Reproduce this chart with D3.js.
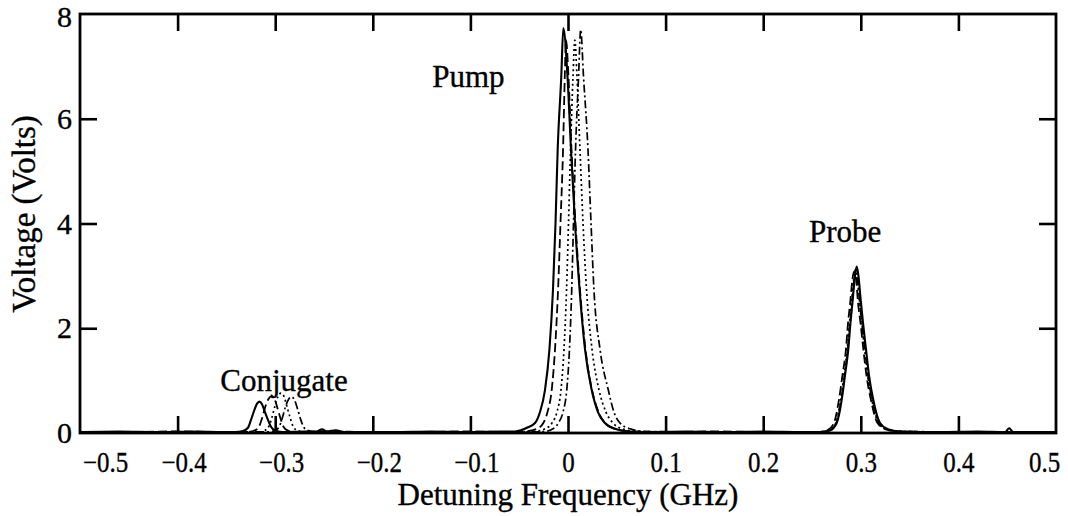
<!DOCTYPE html>
<html>
<head>
<meta charset="utf-8">
<script src="https://cdn.jsdelivr.net/npm/d3@7"></script>
<style>
  html, body { margin: 0; padding: 0; background: #fff; }
  svg { display: block; }
  text { font-family: "Liberation Serif", "Times New Roman", serif; fill: #000; stroke: #000; stroke-width: 0.35px; }
</style>
</head>
<body>
<svg id="chart" width="1068" height="516"></svg>
<script>
// ---------------- data ----------------
const xTicks = [-0.5, -0.4, -0.3, -0.2, -0.1, 0, 0.1, 0.2, 0.3, 0.4, 0.5];
const yTicks = [0, 2, 4, 6, 8];
const xTitle = "Detuning Frequency (GHz)";
const yTitle = "Voltage (Volts)";
const peakLabels = ["Conjugate", "Pump", "Probe"];
const peakLabelAt = [[-0.291, 0.8], [-0.102, 6.6], [0.284, 3.65]]; // [GHz, Volts]

// solid trace: [GHz, Volts]
const solidTrace = [
  [-0.5,0.02],[-0.46,0.03],[-0.42,0.02],[-0.38,0.03],[-0.355,0.02],
  [-0.3412,0.02],[-0.3330,0.04],[-0.3279,0.10],[-0.3248,0.25],[-0.3217,0.42],[-0.3186,0.56],
  [-0.3163,0.60],[-0.3135,0.55],[-0.3105,0.40],[-0.3074,0.25],[-0.3043,0.12],[-0.3002,0.05],[-0.2930,0.02],
  [-0.27,0.03],[-0.258,0.03],[-0.252,0.07],[-0.247,0.03],[-0.238,0.05],[-0.229,0.02],
  [-0.18,0.02],[-0.14,0.03],[-0.10,0.02],[-0.07,0.03],
  [-0.0543,0.03],[-0.0410,0.11],[-0.0338,0.19],[-0.0287,0.40],[-0.0236,0.82],[-0.0190,1.6],
  [-0.0154,2.73],[-0.0128,4.0],[-0.0106,5.4],[-0.0069,6.8],[-0.0048,7.73],[-0.0005,6.8],
  [0.0031,5.4],[0.0072,4.0],[0.0119,2.73],[0.0174,1.6],[0.0243,0.82],[0.0307,0.40],
  [0.0379,0.19],[0.0482,0.08],[0.0635,0.03],
  [0.08,0.02],[0.12,0.03],[0.16,0.02],[0.20,0.03],[0.24,0.02],
  [0.2582,0.02],[0.2684,0.05],[0.2753,0.19],[0.2804,0.63],[0.2838,1.1],[0.2872,1.6],[0.2894,2.1],
  [0.2917,2.54],[0.2940,3.0],[0.2958,3.18],[0.2976,3.0],[0.2999,2.54],[0.3023,2.1],[0.3053,1.6],
  [0.3084,1.1],[0.3128,0.63],[0.3197,0.19],[0.3279,0.07],[0.3402,0.03],
  [0.38,0.02],[0.42,0.03],[0.448,0.02],[0.452,0.09],[0.456,0.02],[0.5,0.02]
];

// long-dash trace
const dashedTrace = [
  [-0.5,0.02],[-0.44,0.02],[-0.40,0.03],[-0.36,0.02],
  [-0.3279,0.02],[-0.3207,0.05],[-0.3166,0.12],[-0.3135,0.28],[-0.3105,0.48],[-0.3069,0.65],
  [-0.3036,0.71],[-0.3007,0.65],[-0.2976,0.47],[-0.2946,0.28],[-0.2915,0.12],[-0.2874,0.05],[-0.2797,0.02],
  [-0.25,0.03],[-0.20,0.02],[-0.15,0.02],[-0.10,0.03],[-0.06,0.02],
  [-0.0441,0.03],[-0.0318,0.08],[-0.0253,0.19],[-0.0210,0.40],[-0.0167,0.82],[-0.0133,1.6],
  [-0.0102,2.73],[-0.0077,4.0],[-0.0051,5.4],[-0.0033,6.8],[-0.0020,7.5],[0.0005,6.8],
  [0.0036,5.4],[0.0077,4.0],[0.0123,2.73],[0.0179,1.6],[0.0246,0.82],[0.0313,0.40],
  [0.0379,0.19],[0.0482,0.08],[0.0635,0.03],
  [0.10,0.02],[0.15,0.03],[0.20,0.02],[0.24,0.02],
  [0.2561,0.02],[0.2664,0.06],[0.2725,0.19],[0.2776,0.63],[0.2812,1.1],[0.2848,1.6],[0.2869,2.1],
  [0.2892,2.5],[0.2915,2.95],[0.2930,3.08],[0.2951,2.95],[0.2971,2.5],[0.2997,2.1],[0.3026,1.6],
  [0.3058,1.1],[0.3104,0.63],[0.3171,0.19],[0.3258,0.07],[0.3381,0.03],
  [0.40,0.02],[0.45,0.02],[0.5,0.02]
];

// dotted trace
const dottedTrace = [
  [-0.5,0.02],[-0.42,0.02],[-0.36,0.02],
  [-0.3156,0.02],[-0.3105,0.05],[-0.3064,0.13],[-0.3033,0.30],[-0.3002,0.52],[-0.2971,0.70],
  [-0.2941,0.76],[-0.2910,0.70],[-0.2879,0.50],[-0.2848,0.30],[-0.2818,0.13],[-0.2777,0.05],[-0.2695,0.02],
  [-0.22,0.02],[-0.16,0.02],[-0.10,0.02],[-0.05,0.02],
  [-0.0338,0.03],[-0.0236,0.08],[-0.0164,0.19],[-0.0113,0.40],[-0.0072,0.82],[-0.0041,1.6],
  [-0.0015,2.73],[0.0005,4.0],[0.0026,5.4],[0.0051,6.8],[0.0070,7.5],[0.0092,6.8],
  [0.0123,5.4],[0.0154,4.0],[0.0190,2.73],[0.0246,1.6],[0.0318,0.82],[0.0389,0.40],
  [0.0461,0.19],[0.0553,0.08],[0.0717,0.03],
  [0.12,0.02],[0.18,0.02],[0.24,0.02],
  [0.2570,0.02],[0.2672,0.05],[0.2741,0.18],[0.2792,0.61],[0.2826,1.08],[0.2860,1.58],[0.2882,2.07],
  [0.2905,2.5],[0.2928,2.95],[0.2946,3.12],[0.2964,2.95],[0.2987,2.5],[0.3011,2.07],[0.3041,1.58],
  [0.3072,1.08],[0.3116,0.61],[0.3185,0.18],[0.3267,0.07],[0.3390,0.03],
  [0.40,0.02],[0.5,0.02]
];

// dash-dot trace
const dashDotTrace = [
  [-0.5,0.02],[-0.42,0.02],[-0.34,0.02],
  [-0.3074,0.02],[-0.3002,0.05],[-0.2956,0.13],[-0.2925,0.30],[-0.2895,0.50],[-0.2864,0.64],
  [-0.2831,0.69],[-0.2802,0.63],[-0.2771,0.46],[-0.2741,0.27],[-0.2710,0.12],[-0.2669,0.05],[-0.2592,0.02],
  [-0.20,0.02],[-0.14,0.02],[-0.08,0.02],[-0.04,0.02],
  [-0.0236,0.03],[-0.0154,0.08],[-0.0099,0.19],[-0.0051,0.40],[-0.0013,0.82],[0.0015,1.6],
  [0.0038,2.73],[0.0056,4.0],[0.0077,5.4],[0.0108,6.8],[0.0130,7.7],[0.0159,6.8],
  [0.0205,5.4],[0.0236,4.0],[0.0266,2.73],[0.0328,1.6],[0.0413,0.82],[0.0471,0.40],
  [0.0533,0.19],[0.0635,0.08],[0.0789,0.03],
  [0.13,0.02],[0.19,0.02],[0.24,0.02],
  [0.2574,0.02],[0.2676,0.05],[0.2745,0.18],[0.2796,0.60],[0.2830,1.06],[0.2864,1.55],[0.2886,2.03],
  [0.2909,2.45],[0.2932,2.9],[0.2950,3.05],[0.2968,2.9],[0.2991,2.45],[0.3015,2.03],[0.3045,1.55],
  [0.3076,1.06],[0.3120,0.60],[0.3189,0.18],[0.3271,0.07],[0.3394,0.03],
  [0.40,0.02],[0.5,0.02]
];

// ---------------- drawing ----------------
const W = 1068, H = 516;
const m = { left: 80, right: 12, top: 14, bottom: 83 };
const pw = W - m.left - m.right, ph = H - m.top - m.bottom;

const svg = d3.select("#chart");
const x = d3.scaleLinear().domain([-0.5, 0.5]).range([m.left, m.left + pw]);
const y = d3.scaleLinear().domain([0, 8]).range([m.top + ph, m.top]);

svg.append("defs").append("clipPath").attr("id", "clip")
  .append("rect").attr("x", m.left).attr("y", m.top).attr("width", pw).attr("height", ph);

const fmtX = d => d === 0 ? "0" : d3.format(".1f")(d);

// traces
const line = d3.line().x(d => x(d[0])).y(d => y(d[1])).curve(d3.curveMonotoneX);
const traces = [
  { data: dottedTrace, dash: "2,3", w: 1.7 },
  { data: dashDotTrace, dash: "8,3,2,3", w: 1.7 },
  { data: dashedTrace, dash: "9,4", w: 1.8 },
  { data: solidTrace, dash: null, w: 2.1 }
];
const g = svg.append("g").attr("clip-path", "url(#clip)");
traces.forEach(t => {
  g.append("path").datum(t.data)
    .attr("d", line)
    .attr("fill", "none")
    .attr("stroke", "#000")
    .attr("stroke-width", t.w)
    .attr("stroke-dasharray", t.dash);
});

// axes with inward ticks
const tickLen = 17;
const inner = xTicks.filter((d, i) => i > 0 && i < xTicks.length - 1);
const innerY = yTicks.filter((d, i) => i > 0 && i < yTicks.length - 1);

const xb = svg.append("g").attr("transform", `translate(0,${m.top + ph})`)
  .call(d3.axisBottom(x).tickValues(xTicks).tickFormat(fmtX).tickSize(-tickLen).tickPadding(8));
xb.select(".domain").remove();
xb.selectAll("line").attr("stroke-width", 2.6).filter(d => !inner.includes(d)).remove();
xb.selectAll("text")
  .attr("font-size", 29)
  .attr("dy", "0.71em")
  .attr("y", 18)
  .attr("dx", d => d === -0.5 ? 25 : (d < 0 ? 6 : (d === 0.5 ? -12 : 0)))
  .each(function () {
    const L = this.getComputedTextLength();
    d3.select(this).attr("textLength", L * 0.86).attr("lengthAdjust", "spacingAndGlyphs");
  });

const xt = svg.append("g").attr("transform", `translate(0,${m.top})`)
  .call(d3.axisTop(x).tickValues(inner).tickFormat("").tickSize(-tickLen));
xt.select(".domain").remove();
xt.selectAll("line").attr("stroke-width", 2.6);

const yl = svg.append("g").attr("transform", `translate(${m.left},0)`)
  .call(d3.axisLeft(y).tickValues(yTicks).tickFormat(d3.format("d")).tickSize(-tickLen).tickPadding(8));
yl.select(".domain").remove();
yl.selectAll("line").attr("stroke-width", 2.6).filter(d => !innerY.includes(d)).remove();
yl.selectAll("text").attr("font-size", 30).attr("x", -8)
  .attr("dy", d => d === 8 ? "0.42em" : "0.32em");

const yr = svg.append("g").attr("transform", `translate(${m.left + pw},0)`)
  .call(d3.axisRight(y).tickValues(innerY).tickFormat("").tickSize(-tickLen));
yr.select(".domain").remove();
yr.selectAll("line").attr("stroke-width", 2.6);

// frame
svg.append("rect")
  .attr("x", m.left).attr("y", m.top).attr("width", pw).attr("height", ph)
  .attr("fill", "none").attr("stroke", "#000").attr("stroke-width", 2.8);

// titles
svg.append("text")
  .attr("x", 568).attr("y", 505)
  .attr("text-anchor", "middle").attr("font-size", 31)
  .text(xTitle);
svg.append("text")
  .attr("transform", `translate(35,${214}) rotate(-90)`)
  .attr("text-anchor", "middle").attr("font-size", 33)
  .text(yTitle);

// peak labels
svg.selectAll("text.peak").data(peakLabels).enter().append("text")
  .attr("class", "peak")
  .attr("x", (d, i) => x(peakLabelAt[i][0]))
  .attr("y", (d, i) => y(peakLabelAt[i][1]))
  .attr("text-anchor", "middle").attr("font-size", 31)
  .text(d => d);
</script>
</body>
</html>
